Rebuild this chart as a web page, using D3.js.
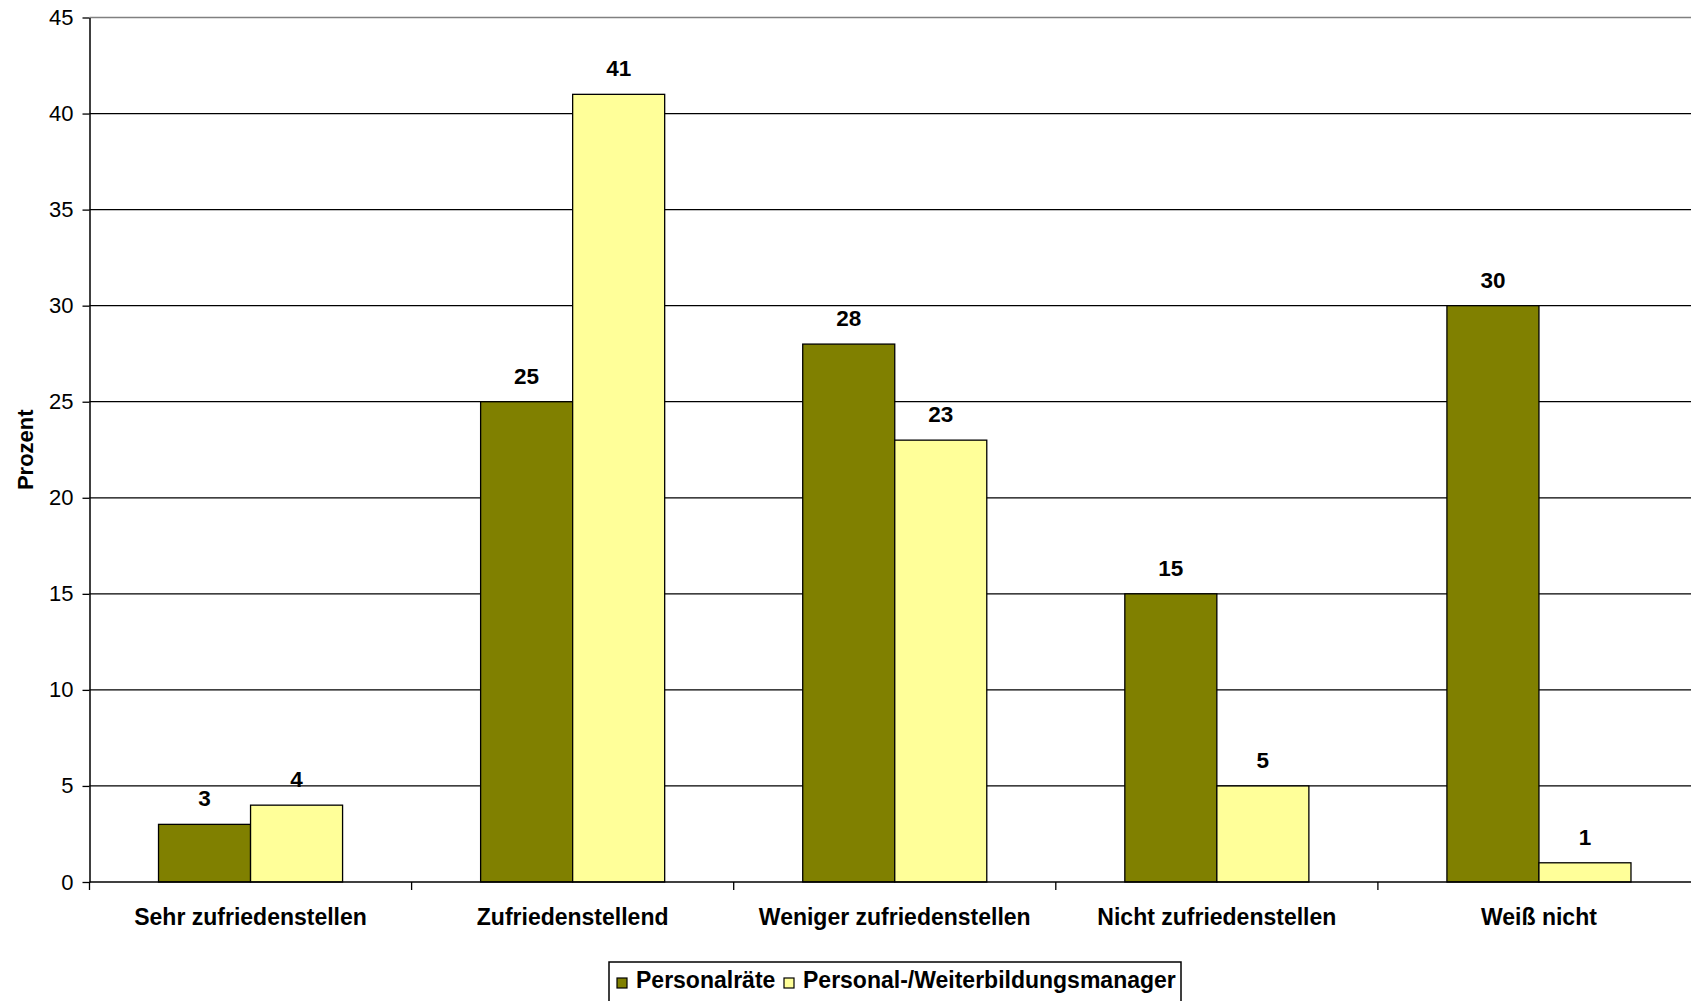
<!DOCTYPE html>
<html><head><meta charset="utf-8">
<script src="https://cdn.jsdelivr.net/npm/d3@7"></script>
<style>
html,body{margin:0;padding:0;background:#fff;overflow:hidden}
text{font-family:"Liberation Sans",Arial,sans-serif;fill:#000}
</style></head><body>
<svg id="c" width="1691" height="1001"></svg>
<script>
const categories = ["Sehr zufriedenstellen","Zufriedenstellend","Weniger zufriedenstellen","Nicht zufriedenstellen","Weiß nicht"];
const seriesNames = ["Personalräte","Personal-/Weiterbildungsmanager"];
const personalraete = [3,25,28,15,30];
const manager = [4,41,23,5,1];
const yTicks = [0,5,10,15,20,25,30,35,40,45];
const colors = ["#808000","#FFFF99"];
const seriesValues = [personalraete, manager];

(function(){
const svg = d3.select("#c");
const pLeft = 89.5, pBottom = 882, pTop = 17.5, catW = 322.1;
const x0 = d3.scaleBand().domain(categories).range([pLeft, pLeft + catW*categories.length]).padding(0);
const x1 = d3.scaleBand().domain(seriesNames).range([0, x0.bandwidth()]).paddingInner(0).paddingOuter(0.75);
const y = d3.scaleLinear().domain([0,45]).range([pBottom, pTop]);
const pRight = pLeft + catW*categories.length;

svg.append("g").selectAll("line").data(yTicks.filter(t=>t>0&&t<45)).join("line")
  .attr("x1", pLeft).attr("x2", pRight).attr("y1", d=>y(d)).attr("y2", d=>y(d))
  .attr("stroke","#000").attr("stroke-width",1.3);
svg.append("line").attr("x1",pLeft).attr("x2",pRight).attr("y1",y(45)).attr("y2",y(45))
  .attr("stroke","#808080").attr("stroke-width",1.5);

categories.forEach((c,i)=>{
  seriesNames.forEach((s,j)=>{
    const v = seriesValues[j][i];
    svg.append("rect")
      .attr("x", x0(c)+x1(s)).attr("y", y(v))
      .attr("width", x1.bandwidth()).attr("height", y(0)-y(v))
      .attr("fill", colors[j]).attr("stroke","#000").attr("stroke-width",1.3);
    svg.append("text")
      .attr("x", x0(c)+x1(s)+x1.bandwidth()/2).attr("y", y(v)-18)
      .attr("text-anchor","middle").attr("font-weight","bold").attr("font-size","22.5px")
      .text(v);
  });
});

const yAxis = d3.axisLeft(y).tickValues(yTicks).tickSize(7).tickSizeOuter(0).tickPadding(9);
const gy = svg.append("g").attr("transform",`translate(${pLeft},0)`).call(yAxis);
gy.select(".domain").attr("stroke","#000").attr("stroke-width",1.5);
gy.selectAll(".tick line").attr("stroke","#000").attr("stroke-width",1.3);
gy.selectAll(".tick text").attr("font-size","22px").attr("font-family","Liberation Sans, Arial, sans-serif").attr("fill","#000");

const gx = svg.append("g").attr("transform",`translate(0,${pBottom})`);
gx.append("line").attr("x1",pLeft).attr("x2",pRight).attr("stroke","#000").attr("stroke-width",1.5);
const tickPos = d3.range(categories.length+1).map(i=>pLeft+i*catW);
gx.selectAll("line.t").data(tickPos).join("line").attr("class","t")
  .attr("x1",d=>d).attr("x2",d=>d).attr("y1",0).attr("y2",8).attr("stroke","#000").attr("stroke-width",1.3);
gx.selectAll("text").data(categories).join("text")
  .attr("x",d=>x0(d)+x0.bandwidth()/2).attr("y",43)
  .attr("text-anchor","middle").attr("font-weight","bold").attr("font-size","23px")
  .text(d=>d);

svg.append("text").attr("transform",`translate(33,${(pTop+pBottom)/2}) rotate(-90)`)
  .attr("text-anchor","middle").attr("font-weight","bold").attr("font-size","22px").text("Prozent");

const lg = svg.append("g");
lg.append("rect").attr("x",609).attr("y",962).attr("width",572).attr("height",50)
  .attr("fill","#fff").attr("stroke","#000").attr("stroke-width",1.5);
const lx = [617, 784];
seriesNames.forEach((s,j)=>{
  lg.append("rect").attr("x",lx[j]).attr("y",978).attr("width",10).attr("height",10)
    .attr("fill",colors[j]).attr("stroke","#000").attr("stroke-width",1.2);
  lg.append("text").attr("x",lx[j]+19).attr("y",988).attr("font-weight","bold").attr("font-size","23px").text(s);
});
})();
</script>
</body></html>
